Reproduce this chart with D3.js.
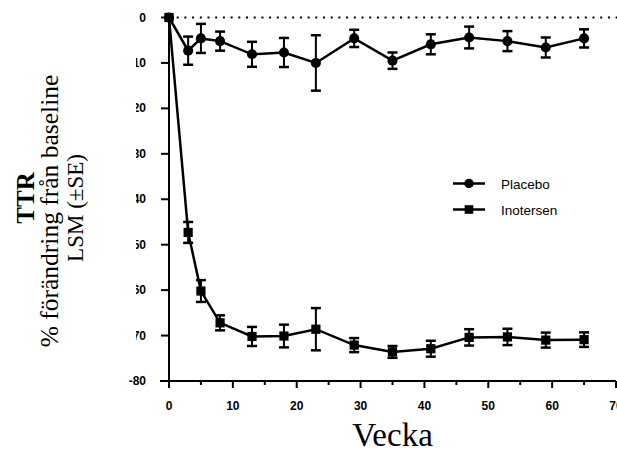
<!DOCTYPE html>
<html>
<head>
<meta charset="utf-8">
<script src="https://cdn.jsdelivr.net/npm/d3@7"></script>
<style>
  body { margin: 0; background: #fff; }
  svg { display: block; }
</style>
</head>
<body>
<svg id="chart" width="617" height="453"></svg>
<script>
// TTR change from baseline, placebo vs inotersen

const weeks = [0, 3, 5, 8, 13, 18, 23, 29, 35, 41, 47, 53, 59, 65];
const placebo = [0, -7.3, -4.6, -5.2, -8.1, -7.7, -10.0, -4.6, -9.5, -5.9, -4.4, -5.2, -6.6, -4.6];
const placeboSE = [0, 3.1, 3.2, 2.1, 2.75, 3.2, 6.1, 1.9, 1.8, 2.2, 2.4, 2.2, 2.2, 2.0];
const inotersen = [0, -47.3, -60.2, -67.2, -70.2, -70.1, -68.6, -72.1, -73.6, -72.9, -70.4, -70.3, -71.0, -70.9];
const inotersenSE = [0, 2.3, 2.4, 1.65, 2.1, 2.5, 4.65, 1.55, 1.3, 1.75, 1.8, 1.8, 1.65, 1.6];

const xTicks = [0, 10, 20, 30, 40, 50, 60, 70];
const xMinor = [5, 15, 25, 35, 45, 55, 65];
const yTicks = [0, -10, -20, -30, -40, -50, -60, -70, -80];
const legendItems = ["Placebo", "Inotersen"];

const svg = d3.select("#chart");

const x = d3.scaleLinear().domain([0, 70]).range([169, 616]);
const y = d3.scaleLinear().domain([-80, 0]).range([381, 17.5]);

// y tick labels (partly hidden behind the title box, like the original)
svg.append("g")
    .selectAll("text")
    .data(yTicks)
    .enter()
    .append("text")
    .attr("x", 146)
    .attr("y", d => y(d) + 4)
    .attr("text-anchor", "end")
    .style("font", "bold 12px Arial, 'Liberation Sans', sans-serif")
    .text(d => d);

// white title box
svg.append("rect")
    .attr("x", 0)
    .attr("y", 34)
    .attr("width", 136)
    .attr("height", 334)
    .attr("fill", "#fff");

const title = svg.append("g")
    .attr("transform", "translate(0,208) rotate(-90)")
    .attr("text-anchor", "middle")
    .style("font-family", "'Liberation Serif', 'Times New Roman', serif")
    .attr("fill", "#000");

title.append("text").attr("x", 10).attr("y", 34)
    .style("font-size", "25px").style("font-weight", "bold").text("TTR");
title.append("text").attr("x", -3).attr("y", 58)
    .style("font-size", "25.5px").text("% förändring från baseline");
title.append("text").attr("x", 0).attr("y", 83)
    .style("font-size", "23px").text("LSM (±SE)");

// axes
const axisG = svg.append("g").attr("stroke", "#000").attr("stroke-width", 2);

axisG.append("line")
    .attr("x1", 160).attr("x2", x(70))
    .attr("y1", y(-80)).attr("y2", y(-80));
axisG.append("line")
    .attr("x1", x(0)).attr("x2", x(0))
    .attr("y1", y(0)).attr("y2", y(-80) + 7);

axisG.selectAll("line.xmaj")
    .data(xTicks)
    .enter()
    .append("line")
    .attr("class", "xmaj")
    .attr("x1", d => x(d)).attr("x2", d => x(d))
    .attr("y1", y(-80)).attr("y2", y(-80) + 7);

axisG.selectAll("line.xmin")
    .data(xMinor)
    .enter()
    .append("line")
    .attr("class", "xmin")
    .attr("x1", d => x(d)).attr("x2", d => x(d))
    .attr("y1", y(-80)).attr("y2", y(-80) + 4);

axisG.selectAll("line.ymaj")
    .data(yTicks)
    .enter()
    .append("line")
    .attr("class", "ymaj")
    .attr("x1", x(0) - 8).attr("x2", x(0))
    .attr("y1", d => y(d)).attr("y2", d => y(d));

svg.append("g")
    .selectAll("text")
    .data(xTicks)
    .enter()
    .append("text")
    .attr("x", d => x(d))
    .attr("y", 410)
    .attr("text-anchor", "middle")
    .style("font", "bold 12px Arial, 'Liberation Sans', sans-serif")
    .text(d => d);

svg.append("text")
    .attr("x", x(35))
    .attr("y", 446)
    .attr("text-anchor", "middle")
    .style("font", "33px 'Liberation Serif', 'Times New Roman', serif")
    .text("Vecka");

// dotted zero line
svg.append("line")
    .attr("x1", x(0)).attr("x2", 617)
    .attr("y1", y(0)).attr("y2", y(0))
    .attr("stroke", "#000")
    .attr("stroke-width", 2)
    .attr("stroke-dasharray", "2,5.7");

// series
const series = [
    { name: "Placebo", vals: placebo, se: placeboSE, shape: "circle" },
    { name: "Inotersen", vals: inotersen, se: inotersenSE, shape: "square" }
];

const line = d3.line()
    .x(d => x(d.w))
    .y(d => y(d.v));

series.forEach(s => {
    const pts = weeks.map((w, i) => ({ w: w, v: s.vals[i], e: s.se[i] }));
    const g = svg.append("g");

    g.append("path")
        .datum(pts)
        .attr("fill", "none")
        .attr("stroke", "#000")
        .attr("stroke-width", 2.5)
        .attr("d", line);

    const bars = pts.filter(d => d.e > 0);
    g.selectAll("line.err")
        .data(bars)
        .enter()
        .append("line")
        .attr("class", "err")
        .attr("x1", d => x(d.w)).attr("x2", d => x(d.w))
        .attr("y1", d => y(d.v + d.e)).attr("y2", d => y(d.v - d.e))
        .attr("stroke", "#000").attr("stroke-width", 2);

    [1, -1].forEach(sign => {
        g.selectAll("line.cap" + sign)
            .data(bars)
            .enter()
            .append("line")
            .attr("class", "cap" + sign)
            .attr("x1", d => x(d.w) - 5).attr("x2", d => x(d.w) + 5)
            .attr("y1", d => y(d.v + sign * d.e)).attr("y2", d => y(d.v + sign * d.e))
            .attr("stroke", "#000").attr("stroke-width", 2.5);
    });

    const sym = d3.symbol()
        .type(s.shape === "circle" ? d3.symbolCircle : d3.symbolSquare)
        .size(s.shape === "circle" ? 80 : 85);

    g.selectAll("path.pt")
        .data(pts)
        .enter()
        .append("path")
        .attr("class", "pt")
        .attr("transform", d => `translate(${x(d.w)},${y(d.v)})`)
        .attr("d", sym)
        .attr("fill", "#000");
});

// legend
const legend = svg.append("g");
legendItems.forEach((name, i) => {
    const ly = 183.5 + i * 26;
    legend.append("line")
        .attr("x1", 453).attr("x2", 485)
        .attr("y1", ly).attr("y2", ly)
        .attr("stroke", "#000").attr("stroke-width", 2.5);
    legend.append("path")
        .attr("transform", `translate(469,${ly})`)
        .attr("d", d3.symbol().type(i === 0 ? d3.symbolCircle : d3.symbolSquare).size(i === 0 ? 70 : 75))
        .attr("fill", "#000");
    legend.append("text")
        .attr("x", 501)
        .attr("y", ly + 5)
        .style("font", "13.5px Arial, 'Liberation Sans', sans-serif")
        .text(name);
});
</script>
</body>
</html>
